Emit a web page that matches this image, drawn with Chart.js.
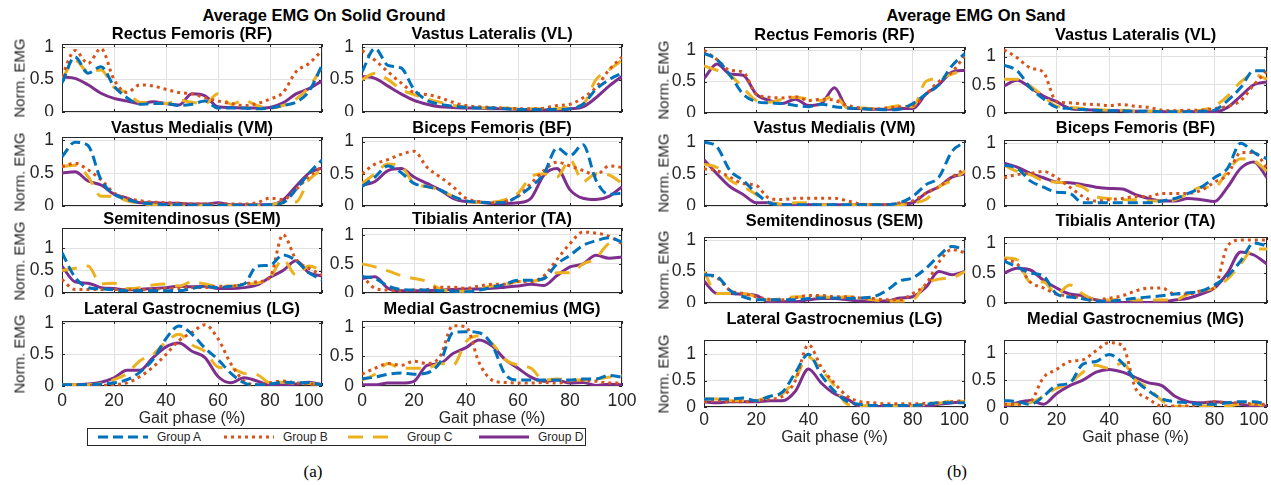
<!DOCTYPE html>
<html lang="en">
<head>
<meta charset="UTF-8">
<title>Average EMG</title>
<script src="https://cdn.jsdelivr.net/npm/chart.js"></script>
<style>
    body { margin: 0; width: 1271px; height: 485px; position: relative; overflow: hidden; background: #fff;
           font-family: "Liberation Sans", Arial, sans-serif; }
    canvas { position: absolute; }
    .txt { position: absolute; transform: translate(-50%, -50%); white-space: nowrap; }
    .fig-title { font-weight: bold; font-size: 16.5px; color: #000; }
    .panel-title { font-weight: bold; font-size: 16.4px; color: #000; }
    .y-label { font-size: 15px; color: #262626; transform: translate(-50%, -50%) rotate(-90deg); }
    .caption { font-family: "Liberation Serif", serif; font-size: 17px; color: #000; }
    .legend { position: absolute; left: 87px; top: 428px; width: 497px; height: 16px; border: 1px solid #262626; background: #fff; }
    .legend .item { position: absolute; top: 0; height: 16px; display: flex; align-items: center; font-size: 12px; color: #262626; }
    .legend svg { margin-right: 9px; }
</style>
</head>
<body>
<div class="legend" id="legend"></div>

<script>
// gait phase (%) sampled every 5 %
const phase = [0, 5, 10, 15, 20, 25, 30, 35, 40, 45, 50, 55, 60, 65, 70, 75, 80, 85, 90, 95, 100];
const xTicks = [0, 20, 40, 60, 80, 100];
const yTicks = [0, 0.5, 1];
const groups = ['Group A', 'Group B', 'Group C', 'Group D'];

// ---- solid ground ----
const solidRF_A = [0.45,0.85,0.6,0.7,0.4,0.22,0.12,0.13,0.13,0.1,0.12,0.17,0.06,0.06,0.06,0.05,0.06,0.1,0.15,0.32,0.72];
const solidRF_B = [0.55,0.95,0.75,0.98,0.5,0.3,0.42,0.4,0.35,0.3,0.28,0.22,0.17,0.13,0.1,0.13,0.2,0.3,0.62,0.75,0.95];
const solidRF_C = [0.5,0.8,0.62,0.65,0.38,0.3,0.15,0.14,0.13,0.18,0.15,0.13,0.28,0.12,0.18,0.1,0.06,0.1,0.2,0.38,0.7];
const solidRF_D = [0.54,0.52,0.42,0.29,0.21,0.17,0.13,0.16,0.13,0.11,0.28,0.25,0.08,0.07,0.06,0.06,0.07,0.14,0.28,0.36,0.48];

const solidVL_A = [0.62,0.98,0.72,0.68,0.35,0.18,0.12,0.09,0.07,0.06,0.06,0.05,0.04,0.04,0.04,0.04,0.05,0.12,0.35,0.5,0.6];
const solidVL_B = [0.95,0.8,0.62,0.45,0.3,0.27,0.22,0.15,0.1,0.08,0.07,0.06,0.05,0.05,0.06,0.1,0.12,0.22,0.38,0.65,0.85];
const solidVL_C = [0.5,0.6,0.5,0.35,0.27,0.2,0.15,0.1,0.08,0.07,0.06,0.06,0.05,0.05,0.05,0.05,0.08,0.12,0.5,0.65,0.8];
const solidVL_D = [0.55,0.52,0.4,0.28,0.18,0.12,0.08,0.07,0.06,0.06,0.05,0.05,0.04,0.04,0.03,0.03,0.05,0.08,0.22,0.4,0.55];

const solidVM_A = [0.75,0.97,0.92,0.4,0.18,0.1,0.05,0.03,0.02,0.02,0.01,0.01,0.01,0.01,0.01,0.01,0.02,0.05,0.25,0.5,0.7];
const solidVM_B = [0.6,0.65,0.55,0.4,0.2,0.12,0.08,0.06,0.05,0.04,0.03,0.03,0.03,0.03,0.03,0.05,0.12,0.1,0.25,0.45,0.6];
const solidVM_C = [0.6,0.62,0.45,0.15,0.15,0.08,0.04,0.02,0.02,0.01,0.01,0.01,0.01,0.01,0.01,0.01,0.02,0.05,0.06,0.4,0.55];
const solidVM_D = [0.5,0.52,0.38,0.32,0.18,0.12,0.05,0.05,0.04,0.04,0.03,0.03,0.05,0.02,0.02,0.02,0.02,0.09,0.3,0.5,0.58];

const solidBF_A = [0.3,0.45,0.62,0.52,0.35,0.3,0.25,0.15,0.08,0.06,0.05,0.06,0.15,0.3,0.5,0.9,0.78,0.95,0.4,0.18,0.2];
const solidBF_B = [0.5,0.65,0.72,0.8,0.85,0.6,0.45,0.3,0.12,0.07,0.05,0.07,0.15,0.35,0.55,0.68,0.62,0.55,0.48,0.62,0.6];
const solidBF_C = [0.35,0.5,0.65,0.62,0.35,0.3,0.25,0.15,0.07,0.06,0.06,0.1,0.2,0.45,0.5,0.45,0.72,0.38,0.5,0.48,0.35];
const solidBF_D = [0.32,0.38,0.55,0.58,0.45,0.35,0.25,0.12,0.07,0.06,0.04,0.04,0.05,0.12,0.48,0.58,0.25,0.12,0.1,0.15,0.3];

const solidSEM_A = [0.9,0.35,0.12,0.09,0.07,0.05,0.05,0.05,0.05,0.05,0.1,0.15,0.12,0.15,0.2,0.6,0.62,0.85,0.72,0.45,0.3];
const solidSEM_B = [0.3,0.08,0.08,0.08,0.08,0.07,0.07,0.08,0.1,0.1,0.12,0.12,0.15,0.15,0.2,0.25,0.35,1.3,0.75,0.55,0.4];
const solidSEM_C = [0.5,0.55,0.6,0.2,0.22,0.1,0.12,0.18,0.2,0.15,0.25,0.2,0.15,0.15,0.2,0.22,0.35,0.75,0.4,0.6,0.5];
const solidSEM_D = [0.6,0.25,0.22,0.12,0.1,0.07,0.08,0.1,0.12,0.15,0.14,0.15,0.1,0.1,0.12,0.18,0.35,0.5,0.72,0.45,0.38];

const solidTA_A = [0.28,0.25,0.12,0.06,0.05,0.05,0.04,0.03,0.02,0.05,0.1,0.15,0.22,0.22,0.25,0.5,0.65,0.82,0.9,0.95,0.88];
const solidTA_B = [0.3,0.08,0.05,0.04,0.05,0.06,0.1,0.1,0.08,0.12,0.15,0.15,0.2,0.2,0.3,0.58,0.85,1.05,1.03,0.98,0.85];
const solidTA_C = [0.5,0.45,0.38,0.3,0.25,0.2,0.07,0.03,0.03,0.07,0.12,0.15,0.2,0.2,0.25,0.35,0.35,0.5,0.6,0.85,0.88];
const solidTA_D = [0.25,0.28,0.08,0.04,0.04,0.04,0.05,0.06,0.07,0.07,0.08,0.1,0.12,0.15,0.13,0.3,0.45,0.5,0.65,0.6,0.62];

const solidLG_A = [0.02,0.02,0.02,0.03,0.05,0.1,0.22,0.42,0.75,0.95,0.82,0.6,0.42,0.2,0.05,0.02,0.03,0.06,0.05,0.05,0.02];
const solidLG_B = [0.01,0.01,0.01,0.01,0.02,0.05,0.15,0.3,0.5,0.72,0.85,0.97,0.75,0.35,0.08,0.02,0.05,0.08,0.05,0.03,0.02];
const solidLG_C = [0.02,0.02,0.02,0.04,0.1,0.2,0.4,0.5,0.7,0.82,0.65,0.55,0.3,0.28,0.2,0.18,0.05,0.06,0.04,0.04,0.02];
const solidLG_D = [0.02,0.02,0.03,0.06,0.13,0.25,0.25,0.45,0.62,0.68,0.55,0.45,0.15,0.05,0.13,0.08,0.02,0.02,0.03,0.06,0.02];

const solidMG_A = [0.12,0.15,0.2,0.22,0.2,0.22,0.4,0.9,0.92,0.9,0.7,0.2,0.1,0.1,0.1,0.1,0.1,0.12,0.12,0.18,0.15];
const solidMG_B = [0.2,0.3,0.38,0.35,0.42,0.38,0.5,1.02,1.0,0.4,0.1,0.06,0.05,0.05,0.06,0.05,0.08,0.1,0.08,0.05,0.05];
const solidMG_C = [0.1,0.2,0.38,0.3,0.3,0.3,0.38,0.35,0.75,0.85,0.72,0.45,0.35,0.3,0.1,0.12,0.1,0.1,0.12,0.15,0.18];
const solidMG_D = [0.02,0.02,0.05,0.05,0.08,0.35,0.38,0.55,0.65,0.78,0.68,0.45,0.3,0.15,0.08,0.1,0.05,0.06,0.01,0.03,0.02];

// ---- sand ----
const sandRF_A = [0.95,0.85,0.6,0.3,0.18,0.16,0.15,0.12,0.1,0.14,0.1,0.08,0.07,0.06,0.05,0.06,0.15,0.3,0.45,0.75,0.95];
const sandRF_B = [1.0,0.85,0.68,0.65,0.3,0.25,0.24,0.26,0.2,0.22,0.2,0.12,0.08,0.06,0.08,0.1,0.12,0.3,0.5,0.65,0.92];
const sandRF_C = [0.75,0.68,0.6,0.4,0.2,0.17,0.22,0.25,0.22,0.2,0.28,0.08,0.08,0.07,0.08,0.12,0.1,0.5,0.55,0.62,0.68];
const sandRF_D = [0.55,0.78,0.62,0.6,0.3,0.2,0.15,0.22,0.12,0.15,0.4,0.08,0.07,0.06,0.06,0.07,0.07,0.3,0.45,0.65,0.68];

const sandVL_A = [0.85,0.75,0.45,0.25,0.1,0.08,0.06,0.05,0.04,0.04,0.03,0.03,0.02,0.02,0.02,0.03,0.05,0.22,0.45,0.75,0.75];
const sandVL_B = [1.12,0.98,0.8,0.72,0.2,0.18,0.16,0.15,0.13,0.15,0.12,0.1,0.05,0.04,0.05,0.05,0.08,0.12,0.22,0.5,0.75];
const sandVL_C = [0.6,0.6,0.48,0.3,0.12,0.1,0.08,0.06,0.05,0.05,0.03,0.03,0.03,0.03,0.03,0.05,0.12,0.3,0.55,0.68,0.6];
const sandVL_D = [0.48,0.58,0.45,0.3,0.2,0.08,0.06,0.05,0.04,0.04,0.03,0.03,0.02,0.02,0.02,0.02,0.02,0.1,0.3,0.5,0.55];

const sandVM_A = [1.0,0.92,0.55,0.4,0.2,0.05,0.02,0.02,0.02,0.02,0.02,0.02,0.02,0.02,0.02,0.05,0.15,0.33,0.45,0.85,1.0];
const sandVM_B = [0.58,0.55,0.45,0.35,0.32,0.12,0.1,0.12,0.12,0.12,0.12,0.08,0.03,0.02,0.02,0.05,0.08,0.2,0.3,0.45,0.58];
const sandVM_C = [0.65,0.6,0.4,0.3,0.18,0.05,0.03,0.05,0.05,0.02,0.02,0.02,0.02,0.02,0.02,0.02,0.05,0.1,0.3,0.4,0.55];
const sandVM_D = [0.72,0.5,0.3,0.18,0.05,0.05,0.02,0.02,0.02,0.02,0.02,0.02,0.02,0.02,0.02,0.03,0.05,0.2,0.3,0.45,0.5];

const sandBF_A = [0.65,0.6,0.4,0.3,0.22,0.2,0.05,0.05,0.05,0.05,0.05,0.05,0.08,0.12,0.2,0.3,0.45,0.6,1.0,0.85,0.75];
const sandBF_B = [0.45,0.5,0.52,0.55,0.45,0.3,0.15,0.08,0.1,0.12,0.15,0.15,0.2,0.2,0.2,0.25,0.38,0.5,0.85,0.85,0.6];
const sandBF_C = [0.65,0.55,0.5,0.4,0.38,0.35,0.3,0.15,0.12,0.1,0.1,0.08,0.08,0.1,0.2,0.3,0.3,0.55,0.75,0.72,0.55];
const sandBF_D = [0.68,0.62,0.52,0.45,0.38,0.37,0.34,0.3,0.28,0.27,0.18,0.12,0.08,0.08,0.12,0.1,0.07,0.3,0.6,0.7,0.45];

const sandSEM_A = [0.45,0.42,0.2,0.1,0.05,0.05,0.05,0.05,0.07,0.08,0.08,0.07,0.08,0.1,0.2,0.35,0.4,0.55,0.75,0.9,0.85];
const sandSEM_B = [0.45,0.4,0.2,0.15,0.1,0.06,0.05,0.08,0.12,0.12,0.1,0.1,0.08,0.07,0.05,0.05,0.15,0.3,0.65,0.85,0.8];
const sandSEM_C = [0.5,0.15,0.15,0.15,0.1,0.05,0.07,0.1,0.1,0.1,0.08,0.1,0.08,0.05,0.03,0.03,0.05,0.3,0.38,0.4,0.5];
const sandSEM_D = [0.35,0.15,0.15,0.14,0.12,0.02,0.02,0.02,0.05,0.07,0.07,0.05,0.03,0.03,0.03,0.08,0.1,0.25,0.5,0.45,0.5];

const sandTA_A = [0.7,0.6,0.5,0.45,0.15,0.1,0.07,0.03,0.03,0.05,0.08,0.1,0.12,0.15,0.17,0.2,0.3,0.45,0.7,1.0,0.95];
const sandTA_B = [0.72,0.65,0.35,0.25,0.15,0.12,0.08,0.05,0.08,0.12,0.2,0.25,0.25,0.15,0.15,0.2,0.25,0.95,1.05,1.05,1.05];
const sandTA_C = [0.75,0.72,0.35,0.35,0.15,0.3,0.15,0.05,0.05,0.07,0.05,0.05,0.05,0.05,0.15,0.2,0.25,0.4,0.65,0.9,0.9];
const sandTA_D = [0.5,0.58,0.55,0.38,0.25,0.15,0.12,0.05,0.02,0.01,0.01,0.01,0.02,0.05,0.08,0.15,0.25,0.5,0.85,0.8,0.65];

const sandLG_A = [0.15,0.15,0.15,0.17,0.12,0.2,0.28,0.65,1.0,0.6,0.3,0.1,0.05,0.03,0.03,0.03,0.03,0.05,0.08,0.08,0.08];
const sandLG_B = [0.1,0.12,0.1,0.1,0.12,0.15,0.2,0.5,1.18,0.75,0.45,0.2,0.1,0.08,0.06,0.06,0.06,0.07,0.08,0.1,0.12];
const sandLG_C = [0.15,0.15,0.12,0.12,0.12,0.2,0.25,0.55,0.95,0.7,0.4,0.05,0.03,0.03,0.03,0.03,0.03,0.05,0.07,0.12,0.1];
const sandLG_D = [0.1,0.08,0.1,0.1,0.1,0.12,0.12,0.3,0.72,0.45,0.25,0.15,0.01,0.01,0.01,0.01,0.01,0.02,0.05,0.08,0.1];

const sandMG_A = [0.12,0.1,0.05,0.2,0.4,0.45,0.8,0.85,0.98,0.82,0.5,0.3,0.15,0.1,0.08,0.05,0.05,0.08,0.1,0.1,0.05];
const sandMG_B = [0.05,0.05,0.1,0.55,0.7,0.85,0.88,1.05,1.2,1.15,0.35,0.15,0.02,0.02,0.02,0.05,0.1,0.08,0.08,0.05,0.05];
const sandMG_C = [0.05,0.05,0.08,0.2,0.35,0.45,0.65,0.78,0.72,0.82,0.5,0.35,0.12,0.01,0.01,0.02,0.01,0.02,0.05,0.05,0.03];
const sandMG_D = [0.0,0.08,0.12,0.05,0.25,0.4,0.5,0.65,0.7,0.65,0.55,0.45,0.4,0.2,0.1,0.08,0.1,0.08,0.05,0.02,0.02];

// panel order: row by row, left then right
const muscleTitles = ['Rectus Femoris (RF)', 'Vastus Lateralis (VL)', 'Vastus Medialis (VM)', 'Biceps Femoris (BF)',
                      'Semitendinosus (SEM)', 'Tibialis Anterior (TA)', 'Lateral Gastrocnemius (LG)', 'Medial Gastrocnemius (MG)'];
const solidSeries = [
    [solidRF_A, solidRF_B, solidRF_C, solidRF_D], [solidVL_A, solidVL_B, solidVL_C, solidVL_D],
    [solidVM_A, solidVM_B, solidVM_C, solidVM_D], [solidBF_A, solidBF_B, solidBF_C, solidBF_D],
    [solidSEM_A, solidSEM_B, solidSEM_C, solidSEM_D], [solidTA_A, solidTA_B, solidTA_C, solidTA_D],
    [solidLG_A, solidLG_B, solidLG_C, solidLG_D], [solidMG_A, solidMG_B, solidMG_C, solidMG_D]
];
const sandSeries = [
    [sandRF_A, sandRF_B, sandRF_C, sandRF_D], [sandVL_A, sandVL_B, sandVL_C, sandVL_D],
    [sandVM_A, sandVM_B, sandVM_C, sandVM_D], [sandBF_A, sandBF_B, sandBF_C, sandBF_D],
    [sandSEM_A, sandSEM_B, sandSEM_C, sandSEM_D], [sandTA_A, sandTA_B, sandTA_C, sandTA_D],
    [sandLG_A, sandLG_B, sandLG_C, sandLG_D], [sandMG_A, sandMG_B, sandMG_C, sandMG_D]
];
const solidYMax = [1.05, 1.05, 1.05, 1.07, 1.45, 1.12, 1.03, 1.1];
const sandYMax = [1.05, 1.17, 1.03, 1.05, 1.05, 1.1, 1.27, 1.25];

// ---- styling / layout ----
const groupColors = ['#0072BD', '#D95319', '#EDB120', '#7E2F8E'];
const groupDash = [[10, 5], [3, 4], [15, 10], []];
const FONT = '"Liberation Sans", Arial, sans-serif';
const INK = '#262626';

// lastTickNudge: trailing spaces after the "100" label, pulls it left like in the original
const figures = [
    { series: solidSeries, yMax: solidYMax, title: 'Average EMG On Solid Ground', titleX: 324, caption: '(a)', captionX: 313,
      cols: [[62, 322], [362, 622]], rows: [[44, 112], [137, 206], [228, 293], [321, 386]],
      titleY: [33, 127, 218, 308], yLabelX: 19, tickPad: 5, padB: 42, lastTickNudge: ['\u2003\u2002', ''] },
    { series: sandSeries, yMax: sandYMax, title: 'Average EMG On Sand', titleX: 976, caption: '(b)', captionX: 957,
      cols: [[704, 965], [1004, 1267]], rows: [[47, 113], [140, 206], [237, 303], [340, 407]],
      titleY: [34, 127, 220, 318], yLabelX: 663, tickPad: 3, padB: 40, lastTickNudge: ['\u2003\u2009', '\u2003\u2002'] }
];

Chart.defaults.font.family = FONT;
Chart.defaults.color = INK;

function addText(text, cls, cx, cy) {
    const d = document.createElement('div');
    d.className = 'txt ' + cls;
    d.textContent = text;
    d.style.left = cx + 'px';
    d.style.top = cy + 'px';
    document.body.appendChild(d);
}

// matlab style box with small inward ticks
const axesBox = {
    id: 'axesBox',
    beforeDatasetsDraw(chart) {
        const { ctx, chartArea: a, scales } = chart;
        ctx.save();
        ctx.strokeStyle = INK;
        ctx.lineWidth = 1;
        ctx.strokeRect(Math.round(a.left) + 0.5, Math.round(a.top) + 0.5,
                       Math.round(a.right - a.left) - 1, Math.round(a.bottom - a.top) - 1);
        ctx.beginPath();
        xTicks.forEach(v => {
            const px = Math.round(scales.x.getPixelForValue(v)) + 0.5;
            ctx.moveTo(px, a.bottom); ctx.lineTo(px, a.bottom - 3);
            ctx.moveTo(px, a.top); ctx.lineTo(px, a.top + 3);
        });
        yTicks.forEach(v => {
            const py = Math.round(scales.y.getPixelForValue(v)) + 0.5;
            ctx.moveTo(a.left, py); ctx.lineTo(a.left + 3, py);
            ctx.moveTo(a.right, py); ctx.lineTo(a.right - 3, py);
        });
        ctx.stroke();
        ctx.restore();
    }
};

function makePanel(fig, idx) {
    const col = idx % 2, row = Math.floor(idx / 2);
    const [x0, x1] = fig.cols[col];
    const [y0, y1] = fig.rows[row];
    const bottomRow = row === 3;
    const padL = 40, padT = 6, padR = 24;
    const padB = bottomRow ? fig.padB : 4;
    const w = x1 - x0 + padL + padR, h = y1 - y0 + padT + padB;
    const nudge = fig.lastTickNudge[col];

    const canvas = document.createElement('canvas');
    canvas.width = w; canvas.height = h;
    canvas.style.left = (x0 - padL) + 'px';
    canvas.style.top = (y0 - padT) + 'px';
    canvas.style.width = w + 'px';
    canvas.style.height = h + 'px';
    document.body.appendChild(canvas);

    addText(muscleTitles[idx], 'panel-title', (x0 + x1) / 2, fig.titleY[row]);
    if (col === 0) addText('Norm. EMG', 'y-label', fig.yLabelX, (y0 + y1) / 2);

    new Chart(canvas, {
        type: 'line',
        data: {
            datasets: fig.series[idx].map((vals, g) => ({
                label: groups[g],
                data: phase.map((p, i) => ({ x: p, y: vals[i] })),
                borderColor: groupColors[g],
                borderDash: groupDash[g],
                borderWidth: 3,
                pointRadius: 0,
                fill: false,
                cubicInterpolationMode: 'monotone'
            }))
        },
        options: {
            responsive: false,
            animation: false,
            devicePixelRatio: 1,
            layout: { padding: { left: 0, top: padT, right: padR, bottom: 0 } },
            plugins: { legend: { display: false }, tooltip: { enabled: false } },
            scales: {
                x: {
                    type: 'linear', min: 0, max: 100,
                    afterBuildTicks: s => { s.ticks = xTicks.map(v => ({ value: v })); },
                    afterFit: s => { s.height = padB; s.paddingLeft = 0; s.paddingRight = 0; },
                    ticks: { display: bottomRow, autoSkip: false, maxRotation: 0, padding: fig.tickPad,
                             font: { size: 17.5 }, color: INK,
                             callback: v => v === 100 ? '100' + nudge : String(v) },
                    grid: { color: '#e2e2e2', drawTicks: false },
                    border: { display: false },
                    title: { display: bottomRow, text: 'Gait phase (%)', font: { size: 16 }, color: INK, padding: 0 }
                },
                y: {
                    min: 0, max: fig.yMax[idx],
                    afterBuildTicks: s => { s.ticks = yTicks.map(v => ({ value: v })); },
                    afterFit: s => { s.width = padL; s.paddingTop = 0; s.paddingBottom = 0; },
                    ticks: { padding: 8, font: { size: 17.5 }, color: INK, callback: v => String(v) },
                    grid: { color: '#e2e2e2', drawTicks: false },
                    border: { display: false }
                }
            }
        },
        plugins: [axesBox]
    });
}

figures.forEach(fig => {
    addText(fig.title, 'fig-title', fig.titleX, 15);
    addText(fig.caption, 'caption', fig.captionX, 472);
    for (let i = 0; i < 8; i++) makePanel(fig, i);
});

// shared legend under the solid-ground panels
const legendSlots = [10, 136, 260, 391];
const legend = document.getElementById('legend');
groups.forEach((name, g) => {
    const item = document.createElement('div');
    item.className = 'item';
    item.style.left = legendSlots[g] + 'px';
    item.innerHTML = '<svg width="50" height="6"><line x1="0" y1="3" x2="50" y2="3" stroke="' + groupColors[g] +
        '" stroke-width="3" stroke-dasharray="' + (groupDash[g].length ? groupDash[g].join(',') : 'none') + '"/></svg>';
    const label = document.createElement('span');
    label.textContent = name;
    item.appendChild(label);
    legend.appendChild(item);
});
</script>
</body>
</html>
